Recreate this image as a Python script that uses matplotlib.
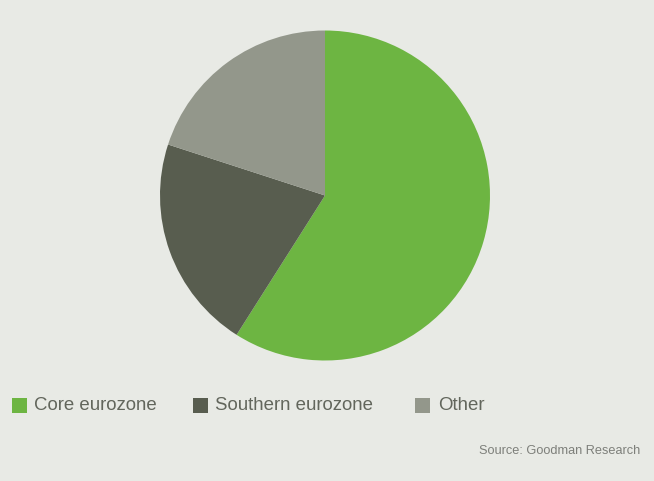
import matplotlib
matplotlib.use("Agg")
import matplotlib.pyplot as plt

LABELS = ["Core eurozone", "Southern eurozone", "Other"]
SHARES = [59, 21, 20]
COLORS = ["#6db542", "#585d4f", "#93978b"]
BG = "#e8eae5"

plt.rcParams["font.family"] = ["Liberation Sans", "DejaVu Sans"]

fig = plt.figure(figsize=(6.54, 4.815), dpi=100)
fig.patch.set_facecolor(BG)

W, H = 654, 481.5
cx, cy, r = 325, 196, 165
ax = fig.add_axes([(cx - r) / W, (H - cy - r) / H, 2 * r / W, 2 * r / H])
ax.set_facecolor(BG)
ax.pie(SHARES, colors=COLORS, startangle=90, counterclock=False,
       radius=1, wedgeprops=dict(linewidth=0))
ax.set_xlim(-1, 1)
ax.set_ylim(-1, 1)
ax.set_aspect("equal")
ax.axis("off")

# legend, laid out by hand to match the spacing
sq = 15
pos = [(12, 34), (193, 215), (415, 438)]
ly = 405.5
for (sx, tx), lab, col in zip(pos, LABELS, COLORS):
    fig.patches.append(plt.Rectangle((sx / W, (H - ly - sq / 2) / H), sq / W, sq / H,
                                     transform=fig.transFigure, facecolor=col,
                                     edgecolor="none"))
    fig.text(tx / W, (H - ly) / H, lab, fontsize=13.4, color="#62665c",
             ha="left", va="center")

fig.text(640 / W, (H - 451) / H, "Source: Goodman Research", fontsize=9.2,
         color="#7d7f7a", ha="right", va="center")

fig.savefig("out.png", dpi=100, facecolor=BG)
